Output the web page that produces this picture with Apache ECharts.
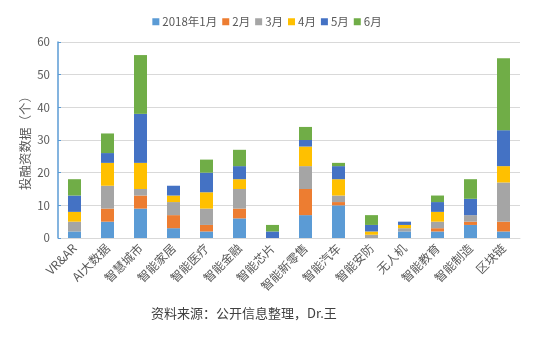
<!DOCTYPE html>
<html>
<head>
<meta charset="utf-8">
<script src="https://cdn.jsdelivr.net/npm/echarts@6/dist/echarts.min.js"></script>
<style>html,body{margin:0;padding:0;background:#fff;}#c{width:534px;height:339px;}</style>
</head>
<body>
<div id="c"></div>
<script>
const categories = ['VR&AR','AI大数据','智慧城市','智能家居','智能医疗','智能金融','智能芯片','智能新零售','智能汽车','智能安防','无人机','智能教育','智能制造','区块链'];
const seriesNames = ['2018年1月','2月','3月','4月','5月','6月'];
const jan = [2,5,9,3,2,6,0,7,10,0,2,2,4,2];
const feb = [0,4,4,4,2,3,0,8,1,0,0,1,1,3];
const mar = [3,7,2,4,5,6,0,7,2,1,1,2,2,12];
const apr = [3,7,8,2,5,3,0,6,5,1,1,3,0,5];
const may = [5,3,15,3,6,4,2,2,4,2,1,3,5,11];
const jun = [5,6,18,0,4,5,2,4,1,3,0,2,6,22];
const yTicks = {min:0, max:60, interval:10};
const colors = ['#5B9BD5','#ED7D31','#A5A5A5','#FFC000','#4472C4','#70AD47'];
const allData = [jan,feb,mar,apr,may,jun];
const font = '"Noto Sans CJK SC", "Noto Sans", sans-serif';

const chart = echarts.init(document.getElementById('c'), null, {renderer:'canvas'});
chart.setOption({
  animation:false,
  color: colors,
  textStyle:{fontFamily:font},
  legend:{
    top:11, left:'center',
    itemWidth:7, itemHeight:7, itemGap:5,
    textStyle:{fontSize:11.5, color:'#595959', fontFamily:font, padding:[0,0,0,-2]},
    icon:'rect',
    data: seriesNames
  },
  grid:{left:58, right:14, top:42, bottom:101, containLabel:false},
  xAxis:{
    type:'category', data:categories,
    axisLine:{lineStyle:{color:'#D9D9D9', width:1}},
    axisTick:{show:false},
    axisLabel:{rotate:45, interval:0, fontSize:12, color:'#595959', margin:8, fontFamily:font}
  },
  yAxis:{
    type:'value', min:yTicks.min, max:yTicks.max, interval:yTicks.interval,
    axisLine:{show:true, lineStyle:{color:'#5B9BD5', width:1.5}},
    axisTick:{show:true, inside:true, length:3, lineStyle:{color:'#5B9BD5'}},
    axisLabel:{fontSize:11.5, color:'#595959', margin:8, fontFamily:font},
    splitLine:{lineStyle:{color:'#D9D9D9', width:1}}
  },
  series: seriesNames.map((n,i)=>({
    name:n, type:'bar', stack:'total', data:allData[i], barWidth:13,
    itemStyle:{color:colors[i]}
  })),
  graphic:[{
    type:'text', x:25, y:140, rotation:Math.PI/2,
    style:{text:'投融资数据（个）', fontSize:12.5, fill:'#595959', fontFamily:font, align:'center', verticalAlign:'middle'}
  },{
    type:'text', left:151, top:307,
    style:{text:'资料来源：公开信息整理，Dr.王', fontSize:13, fill:'#404040', fontFamily:font}
  }]
});
</script>
</body>
</html>
